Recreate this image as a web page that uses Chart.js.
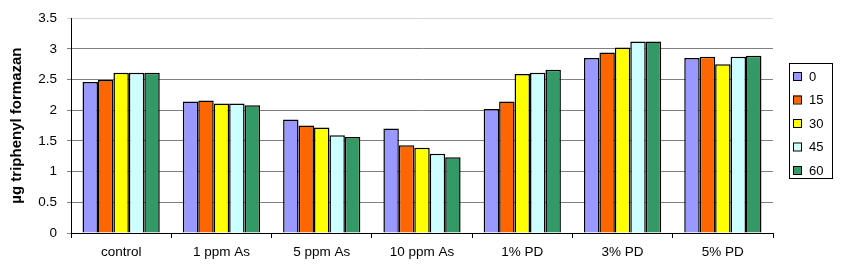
<!DOCTYPE html>
<html lang="en">
<head>
<meta charset="UTF-8">
<script src="https://cdn.jsdelivr.net/npm/chart.js"></script>
<style>
  html, body { margin: 0; padding: 0; background: #fff; }
  .grafico { width: 842px; height: 266px; position: relative; }
</style>
</head>
<body>
<div class="grafico"><canvas id="myChart"></canvas></div>

<script>
// dados
const categorias = ['control', '1 ppm As', '5 ppm As', '10 ppm As', '1% PD', '3% PD', '5% PD'];
const tempos = ['0', '15', '30', '45', '60'];
const serie0  = [2.46, 2.14, 1.85, 1.70, 2.02, 2.85, 2.85];
const serie15 = [2.49, 2.16, 1.75, 1.43, 2.14, 2.94, 2.87];
const serie30 = [2.61, 2.11, 1.72, 1.39, 2.59, 3.02, 2.75];
const serie45 = [2.61, 2.11, 1.59, 1.29, 2.61, 3.12, 2.87];
const serie60 = [2.61, 2.08, 1.565, 1.235, 2.66, 3.12, 2.885];
const yMax = 3.5;
const yPasso = 0.5;

const cores = ['#9999ff', '#ff6600', '#ffff00', '#ccffff', '#339966'];
const series = [serie0, serie15, serie30, serie45, serie60];
const fonte = "'Liberation Sans', Arial, sans-serif";

// legenda desenhada a mao, com moldura
const legendaCaixa = {
    id: 'legendaCaixa',
    afterDraw(chart) {
        const ctx = chart.ctx;
        const area = chart.chartArea;
        const x0 = area.right + 16;
        const w = 43, h = 115;
        const y0 = 63;
        ctx.save();
        ctx.strokeStyle = '#000';
        ctx.lineWidth = 1;
        ctx.strokeRect(x0 + 0.5, y0 + 0.5, w, h);
        ctx.font = '13px ' + fonte;
        ctx.textBaseline = 'middle';
        chart.data.datasets.forEach((ds, i) => {
            const cy = y0 + 13 + i * 23.5;
            ctx.fillStyle = ds.backgroundColor;
            ctx.fillRect(x0 + 4, cy - 4, 8, 8);
            ctx.strokeStyle = '#000';
            ctx.strokeRect(x0 + 4.5, cy - 3.5, 8, 8);
            ctx.fillStyle = '#000';
            ctx.fillText(ds.label, x0 + 20, cy + 1);
        });
        ctx.restore();
    }
};

const data = {
    labels: categorias,
    datasets: tempos.map((t, i) => ({
        label: t,
        data: series[i],
        backgroundColor: cores[i],
        borderColor: '#000',
        borderWidth: 1.5,
        borderSkipped: 'start',
        categoryPercentage: 0.77,
        barPercentage: 1
    }))
};

const config = {
    type: 'bar',
    data: data,
    options: {
        responsive: true,
        maintainAspectRatio: false,
        animation: false,
        layout: { padding: { top: 13, right: 69, left: 0, bottom: 0 } },
        plugins: {
            legend: { display: false },
            tooltip: { enabled: false }
        },
        scales: {
            x: {
                afterFit: (s) => { s.height = 33; },
                grid: {
                    display: true,
                    drawOnChartArea: false,
                    drawTicks: true,
                    tickLength: 5,
                    color: '#000'
                },
                border: { display: true, color: '#000', width: 1 },
                ticks: { color: '#000', padding: 6, font: { family: fonte, size: 13.5 } }
            },
            y: {
                min: 0,
                max: yMax,
                afterFit: (s) => { s.width = 71; },
                ticks: {
                    stepSize: yPasso,
                    color: '#000',
                    padding: 10,
                    font: { family: fonte, size: 13.5 },
                    callback: (v) => String(v)
                },
                grid: {
                    color: (c) => c.tick && c.tick.value === yMax ? '#d4d4d4' : '#808080',
                    tickLength: 4,
                    lineWidth: 1
                },
                border: { display: true, color: '#000', width: 1 },
                title: {
                    display: true,
                    text: 'µg triphenyl formazan',
                    color: '#000',
                    font: { family: fonte, size: 15, weight: 'bold' },
                    padding: { top: 8, bottom: 0 }
                }
            }
        }
    },
    plugins: [legendaCaixa]
};

const myChart = new Chart(document.getElementById('myChart'), config);
</script>
</body>
</html>
